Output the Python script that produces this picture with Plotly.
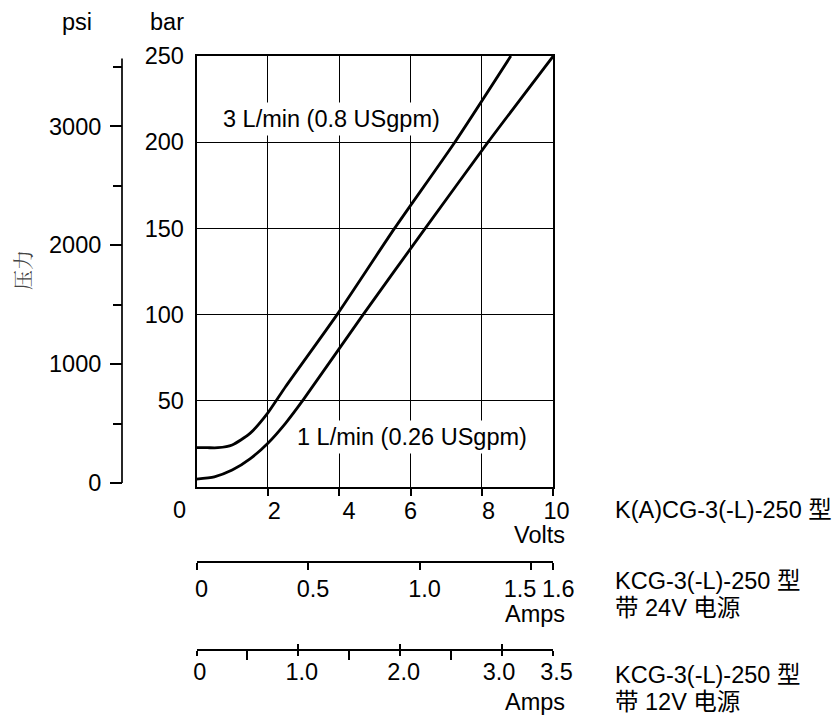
import plotly.graph_objects as go

# ---------------- data ----------------
volts_3lpm = [0, 0.3, 0.6, 1.0, 1.5, 2.0, 2.5, 3.94, 5.55, 7.24, 8.81]
bar_3lpm = [22.8, 22.8, 22.8, 24.4, 31.1, 43.0, 58.3, 100, 150, 200, 250]
volts_1lpm = [0, 0.5, 1.0, 1.5, 2.0, 2.5, 3.0, 4.67, 6.41, 8.17, 10]
bar_1lpm = [4.6, 5.9, 9.8, 16.3, 25.4, 37.1, 50.8, 100, 150, 200, 250]

bar_ticks = [50, 100, 150, 200, 250]
volt_ticks = [2, 4, 6, 8, 10]
volt_ticktext = ["\u00a0\u00a02", "\u00a0\u00a0\u00a04", "6", "\u00a0\u00a08", "\u00a010"]
psi_major = [0, 1000, 2000, 3000]
psi_minor = [500, 1500, 2500, 3500]
psi_range = [-34, 3592]
psi_axis_top = 3570
amps24_ticks = [0, 0.5, 1.0, 1.5, 1.6]
amps24_text = ["0", "0.5", "1.0", "", "1.6"]
amps24_shifted = [1.5]
amps24_shifted_text = ["1.5"]
amps24_range = [0, 1.6]
amps12_ticks = [0, 1.0, 2.0, 3.0, 3.5]
amps12_text = ["\u00a00", "\u00a01.0", "\u00a02.0", "3.0\u00a0", "\u00a03.5"]
amps12_minor = [0.5, 1.5, 2.5]
amps12_range = [0, 3.5]

label_3lpm = "3 L/min (0.8 USgpm)"
label_1lpm = "1 L/min (0.26 USgpm)"

FONT = "Liberation Sans, Arial, Noto Sans CJK SC, sans-serif"
FS = 23.5

# screen-pixel helpers (page body has an 8px margin)
OFF = 8
L, R, T, B = 100, 600, 56, 660          # plot area in screen pixels
def px(p):
    return (p - L) / (R - L)
def py(p):
    return (B - p) / (B - T)

fig = go.Figure()
line_style = dict(color="black", width=2.8, shape="spline", smoothing=0.6)
fig.add_trace(go.Scatter(x=volts_3lpm, y=bar_3lpm, mode="lines", line=line_style,
                         showlegend=False, hoverinfo="skip"))
fig.add_trace(go.Scatter(x=volts_1lpm, y=bar_1lpm, mode="lines", line=line_style,
                         showlegend=False, hoverinfo="skip"))
# invisible traces to instantiate the extra axes
for xa, rng in (("x2", amps24_range), ("x3", amps12_range), ("x4", amps12_range),
                ("x5", amps24_range)):
    fig.add_trace(go.Scatter(x=rng, y=[0, 0], xaxis=xa, yaxis="y", mode="markers",
                             marker=dict(opacity=0), showlegend=False, hoverinfo="skip"))
fig.add_trace(go.Scatter(x=[0, 0], y=[0, 0], xaxis="x", yaxis="y2", mode="markers",
                         marker=dict(opacity=0), showlegend=False, hoverinfo="skip"))

xdom = [px(196.5), px(553.3)]
tickfont = dict(family=FONT, size=FS, color="black")

fig.update_layout(
    width=840, height=716,
    margin=dict(l=L - OFF, r=840 - (R - OFF), t=T - OFF, b=716 - (B - OFF)),
    paper_bgcolor="white", plot_bgcolor="white",
    font=dict(family=FONT, size=FS, color="black"),
    xaxis=dict(domain=xdom, range=[0, 10], tickvals=volt_ticks, ticktext=volt_ticktext,
               ticks="outside", ticklen=7, tickwidth=1.5, tickcolor="black", tickangle=0,
               showgrid=True, gridcolor="black", gridwidth=1.2,
               showline=True, linecolor="black", linewidth=1.7, mirror=True,
               zeroline=False, tickfont=tickfont, ticklabelstandoff=-5, fixedrange=True),
    yaxis=dict(domain=[py(487), 1], range=[0, 250], tickvals=bar_ticks,
               ticks="", showgrid=True, gridcolor="black", gridwidth=1.2,
               showline=True, linecolor="black", linewidth=1.7, mirror=True,
               zeroline=False, tickfont=tickfont, ticklabelstandoff=6, fixedrange=True),
    yaxis2=dict(overlaying="y", anchor="free", position=px(122), side="left",
                range=psi_range, tickvals=psi_major, ticktext=[str(v) for v in psi_major],
                ticks="outside", ticklen=12, tickwidth=1.5, tickcolor="black",
                minor=dict(tickvals=psi_minor, ticks="outside", ticklen=9, tickwidth=1.5,
                           tickcolor="black", showgrid=False),
                showline=False, showgrid=False, zeroline=False,
                tickfont=tickfont, ticklabelstandoff=4, fixedrange=True),
    xaxis2=dict(overlaying="x", anchor="free", position=py(562), side="bottom",
                range=amps24_range, tickvals=amps24_ticks, ticktext=amps24_text,
                ticks="outside", ticklen=7, tickwidth=1.5, tickcolor="black", tickangle=0,
                showline=True, linecolor="black", linewidth=1.7,
                showgrid=False, zeroline=False, tickfont=tickfont, ticklabelstandoff=-1,
                ticklabelshift=5, fixedrange=True),
    xaxis5=dict(overlaying="x", anchor="free", position=py(562), side="bottom",
                range=amps24_range, tickvals=amps24_shifted, ticktext=amps24_shifted_text,
                ticks="outside", ticklen=7, tickwidth=1.5, tickcolor="black", tickangle=0,
                showline=False, showgrid=False, zeroline=False, tickfont=tickfont,
                ticklabelstandoff=-1, ticklabelshift=-11, fixedrange=True),
    xaxis3=dict(overlaying="x", anchor="free", position=py(650), side="bottom",
                range=amps12_range, tickvals=amps12_ticks, ticktext=amps12_text,
                ticks="outside", ticklen=5, tickwidth=1.5, tickcolor="black", tickangle=0,
                minor=dict(tickvals=amps12_minor, ticks="outside", ticklen=9, tickwidth=1.5,
                           tickcolor="black", showgrid=False),
                showline=True, linecolor="black", linewidth=1.7,
                showgrid=False, zeroline=False, tickfont=tickfont, ticklabelstandoff=-4,
                fixedrange=True),
    xaxis4=dict(overlaying="x", anchor="free", position=py(650), side="bottom",
                range=amps12_range, tickvals=amps12_ticks, ticktext=["" for _ in amps12_ticks],
                ticks="inside", ticklen=6, tickwidth=1.5, tickcolor="black",
                showline=False, showgrid=False, zeroline=False, fixedrange=True),
)

# psi axis line
fig.add_shape(type="line", xref="paper", yref="y2", x0=px(122), x1=px(122),
              y0=psi_major[0], y1=psi_axis_top, line=dict(color="black", width=1.7))

def ann(text, x, y, xanchor="center", **kw):
    d = dict(text=text, x=px(x), y=py(y), xref="paper", yref="paper",
             xanchor=xanchor, yanchor="middle", showarrow=False,
             font=dict(family=FONT, size=FS, color="black"))
    d.update(kw)
    fig.add_annotation(**d)

ann("psi", 77, 22)
ann("bar", 167, 22)
ann("压力", 22, 270, textangle=-90,
    font=dict(family="Noto Serif CJK SC, Noto Sans CJK SC", size=20, color="#444"))
ann("0", 179, 510)
ann("Volts", 567, 535, xanchor="right")
ann("Amps", 567, 614, xanchor="right")
ann("Amps", 567, 702, xanchor="right")

fig.add_annotation(text=label_3lpm, x=3.77, y=213.5, xref="x", yref="y", showarrow=False,
                   bgcolor="white", borderpad=3, font=dict(family=FONT, size=FS, color="black"))
fig.add_annotation(text=label_1lpm, x=6.04, y=29, xref="x", yref="y", showarrow=False,
                   bgcolor="white", borderpad=3, font=dict(family=FONT, size=FS, color="black"))

ann("K(A)CG-3(-L)-250 型", 613, 510, xanchor="left")
ann("KCG-3(-L)-250 型", 613, 581, xanchor="left")
ann("带 24V 电源", 613, 608, xanchor="left")
ann("KCG-3(-L)-250 型", 613, 675, xanchor="left")
ann("带 12V 电源", 613, 702, xanchor="left")

fig.write_html("out.html")
